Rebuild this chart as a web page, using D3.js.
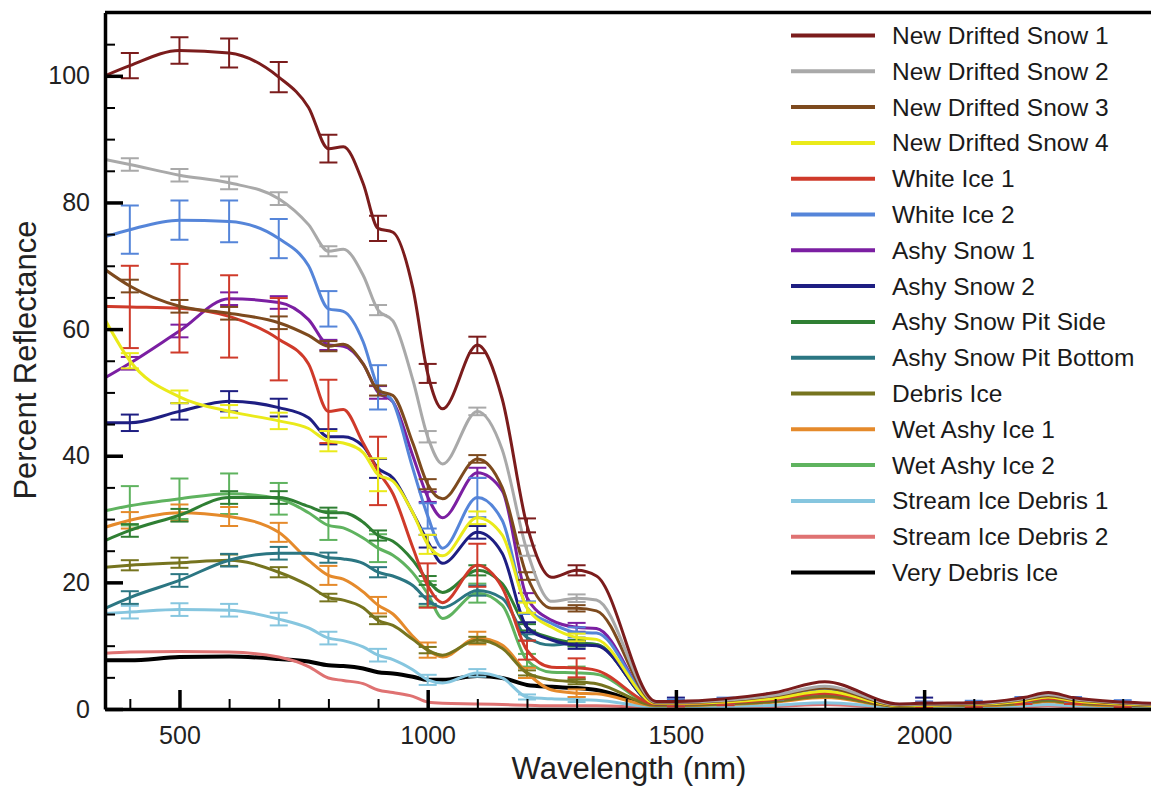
<!DOCTYPE html>
<html>
<head>
<meta charset="utf-8">
<script src="https://cdn.jsdelivr.net/npm/d3@7/dist/d3.min.js"></script>
<style>
  body { margin: 0; background: #fff; }
  svg { display: block; font-family: "Liberation Sans", Arial, Helvetica, sans-serif; }
</style>
</head>
<body>
<div id="chart"></div>
<script>
// wavelengths (nm) the curves are sampled at
var wavelengths = [350, 400, 500, 600, 700, 760, 800, 830, 870, 900, 930, 970, 1000, 1030, 1100, 1150, 1200, 1250, 1300, 1340,
                   1460, 1500, 1600, 1700, 1800, 1950, 2000, 2100, 2200, 2250, 2300, 2400, 2460];

// percent reflectance per surface type
var newDriftedSnow1 = [100, 101.6, 104, 103.6, 99.8, 95, 88.5, 88.8, 83, 75.9, 75.3, 66.5, 53, 47.4, 57.5, 49, 29, 20.8, 21.9, 21,
                       1.2, 1.2, 1.6, 2.6, 4.3, 0.8, 0.9, 1.0, 1.8, 2.6, 1.8, 1.1, 0.9];
var newDriftedSnow2 = [86.8, 86, 84.3, 83.1, 80.6, 76.5, 72.3, 72.6, 68.5, 63, 61.3, 52, 43, 38.7, 47, 41, 25, 17, 17.5, 17.2,
                       1.1, 1.1, 1.4, 2.2, 3.6, 0.7, 0.8, 0.9, 1.6, 2.3, 1.6, 1.0, 0.8];
var newDriftedSnow3 = [69.4, 66.8, 63.6, 62.5, 61, 59, 57.3, 57.6, 54.5, 50.3, 49.5, 42, 35.5, 33.2, 39.5, 35, 21, 15.9, 15.9, 15.5,
                       1.0, 1.0, 1.3, 2.1, 3.3, 0.6, 0.7, 0.8, 1.5, 2.1, 1.5, 0.9, 0.7];
var newDriftedSnow4 = [61.5, 55, 49.3, 47, 45.5, 44.3, 42.3, 42, 40.5, 37, 36, 31, 26, 24.2, 30.2, 27.5, 16, 12.9, 11.3, 11,
                       0.9, 0.9, 1.1, 1.7, 2.8, 0.5, 0.6, 0.7, 1.3, 1.9, 1.3, 0.8, 0.6];
var whiteIce1 = [63.6, 63.5, 63.3, 62, 58.4, 54.5, 47, 47.3, 42, 37.6, 34, 25.5, 19.5, 16.8, 22.7, 19.2, 9.3, 6.6, 6.5, 6.1,
                 0.8, 0.8, 1.0, 1.5, 2.5, 0.5, 0.6, 0.7, 1.2, 1.7, 1.2, 0.7, 0.6];
var whiteIce2 = [74.6, 75.7, 77.2, 77, 74.3, 70, 63.2, 62.8, 58, 50.8, 48.5, 38, 30.5, 25.4, 33.4, 29.8, 16, 13.5, 12.1, 12,
                 0.9, 1.0, 1.3, 2.0, 3.1, 0.6, 0.7, 0.8, 1.4, 2.0, 1.4, 0.9, 0.7];
var ashySnow1 = [52.3, 54.6, 59.7, 64.8, 64.2, 61.5, 57.5, 57.3, 54.5, 50, 48.5, 40, 33.5, 30.2, 37.3, 34.5, 17.6, 14, 12.9, 12.7,
                 0.9, 0.9, 1.2, 1.9, 3.0, 0.6, 0.7, 0.8, 1.4, 2.0, 1.4, 0.8, 0.7];
var ashySnow2 = [45.2, 45.2, 47, 48.6, 47.6, 46, 43, 43, 41.5, 38, 36.5, 31, 26.5, 23, 27.9, 24.6, 12.9, 10.9, 10.1, 10,
                 0.8, 0.9, 1.1, 1.7, 2.7, 0.5, 0.6, 0.7, 1.3, 1.8, 1.3, 0.8, 0.6];
var ashySnowPitSide = [26.6, 28.2, 30.6, 33.4, 33.4, 32, 31, 31, 29.5, 27.4, 26.5, 23.5, 20.3, 18.4, 21.9, 19.8, 12.9, 11.2, 10.4, 10.2,
                       0.8, 0.8, 1.0, 1.6, 2.6, 0.5, 0.6, 0.7, 1.2, 1.7, 1.2, 0.7, 0.6];
var ashySnowPitBottom = [15.9, 17.6, 20.3, 23.5, 24.6, 24.6, 23.9, 23.7, 23, 21.6, 21, 19.5, 17.2, 16, 18.7, 17.5, 11.3, 10.1, 10.4, 10.2,
                         0.8, 0.8, 1.0, 1.5, 2.5, 0.5, 0.6, 0.7, 1.2, 1.6, 1.2, 0.7, 0.6];
var debrisIce = [22.4, 22.7, 23.1, 23.5, 21.6, 19.5, 17.6, 17.2, 16, 14, 13.2, 11, 9.3, 8.5, 10.9, 9.6, 5.7, 4.6, 4.3, 4,
                 0.6, 0.6, 0.8, 1.2, 2.0, 0.4, 0.5, 0.6, 0.9, 1.3, 0.9, 0.6, 0.5];
var wetAshyIce1 = [28.7, 29.8, 31, 30.4, 27.9, 23.5, 21.1, 20.5, 18.5, 16.4, 15, 11.5, 9.3, 8.2, 11.2, 10.1, 5.7, 3, 2.5, 2.4,
                   0.5, 0.5, 0.7, 1.1, 1.8, 0.4, 0.5, 0.5, 0.8, 1.2, 0.8, 0.5, 0.5];
var wetAshyIce2 = [31.3, 32.1, 33.2, 34, 33.2, 31, 29, 28.6, 27, 25.4, 24.3, 21.5, 18.2, 14.3, 18.3, 16.4, 7.7, 5.8, 5.7, 5.5,
                   0.6, 0.7, 0.9, 1.4, 2.3, 0.5, 0.5, 0.6, 1.0, 1.5, 1.0, 0.6, 0.5];
var streamIceDebris1 = [15.1, 15.3, 15.7, 15.6, 14.2, 12.8, 11.2, 10.8, 9.8, 8.5, 7.8, 6.2, 4.6, 4.1, 5.7, 4.9, 1.9, 1.6, 1.5, 1.4,
                        0.3, 0.3, 0.4, 0.6, 1.0, 0.3, 0.3, 0.3, 0.5, 0.7, 0.5, 0.3, 0.3];
var streamIceDebris2 = [8.8, 9, 9.1, 9, 8.2, 6.7, 4.9, 4.5, 4, 3, 2.6, 2, 1.1, 0.9, 0.8, 0.7, 0.6, 0.5, 0.5, 0.5,
                        0.2, 0.2, 0.3, 0.4, 0.7, 0.2, 0.2, 0.2, 0.3, 0.5, 0.3, 0.2, 0.2];
var veryDebrisIce = [7.7, 7.7, 8.2, 8.3, 7.9, 7.5, 6.9, 6.8, 6.4, 5.8, 5.6, 5.1, 4.6, 4.6, 5.2, 4.9, 3.8, 3.5, 3.3, 3,
                     0.6, 0.6, 0.8, 1.3, 2.3, 0.4, 0.5, 0.6, 0.9, 1.3, 0.9, 0.6, 0.5];

// error bars (+/-) at these wavelengths
var errWavelengths = [400, 500, 600, 700, 800, 900, 1000, 1100, 1200, 1300, 1500, 1600, 1700, 2000, 2100, 2200, 2300, 2400];
var errNDS1 = [2, 2.1, 2.3, 2.4, 2.2, 2, 1.5, 1.3, 1.1, 0.8, 0, 0, 0, 0, 0, 0, 0, 0];
var errNDS2 = [1, 1, 1, 1, 0.8, 0.8, 0.9, 0.6, 0.8, 0.6, 0, 0, 0, 0, 0, 0, 0, 0];
var errNDS3 = [1, 1, 1, 1, 0.8, 0.8, 0.8, 0.6, 0.6, 0.5, 0, 0, 0, 0, 0, 0, 0, 0];
var errNDS4 = [1.2, 1, 1, 1.3, 1.6, 2.6, 1.5, 1, 0.8, 0.6, 0, 0, 0, 0, 0, 0, 0, 0];
var errWI1 = [6.5, 7, 6.5, 6.5, 5, 5.4, 3.5, 3.4, 1.5, 1.5, 0.4, 0.4, 0, 0.4, 0.4, 0.4, 0.4, 0.4];
var errWI2 = [3.8, 3.1, 3.3, 3.1, 2.8, 3.5, 2, 3.1, 1, 0.8, 0.5, 0.5, 0.5, 0.5, 0.5, 0.5, 0.5, 0.5];
var errAS1 = [1, 1, 1, 1, 0.8, 1, 0.8, 0.8, 0.7, 0.7, 0, 0, 0, 0, 0, 0, 0, 0];
var errAS2 = [1.3, 1.3, 1.6, 1.4, 1.2, 1.5, 1, 1, 0.8, 0.6, 0.9, 0, 0, 1.2, 0, 0, 0, 0];
var errASPS = [1, 1, 1, 1, 0.8, 0.8, 0.7, 0.8, 0.5, 0.5, 0, 0, 0, 0, 0, 0, 0, 0];
var errASPB = [1, 1, 1, 1, 0.8, 0.8, 0.6, 0.8, 0.5, 0.5, 0, 0, 0, 0, 0, 0, 0, 0];
var errDI = [0.8, 0.8, 0.9, 0.8, 0.6, 0.6, 0.5, 0.5, 0.4, 0.4, 0, 0, 0, 0, 0, 0, 0, 0];
var errWAI1 = [1.3, 1.3, 1.5, 1.5, 1.5, 1.3, 1.2, 1, 0.8, 0.6, 0, 0, 0, 0, 0, 0, 0, 0];
var errWAI2 = [3.1, 3.2, 3.2, 2.5, 2.3, 2.2, 2, 1.5, 1, 1, 0, 0, 0, 0, 0, 0, 0, 0];
var errSID1 = [1, 1, 1, 1, 1, 1, 0.8, 0.6, 0.4, 0.4, 0, 0, 0, 0, 0, 0, 0, 0];

var names = ["New Drifted Snow 1", "New Drifted Snow 2", "New Drifted Snow 3", "New Drifted Snow 4",
             "White Ice 1", "White Ice 2", "Ashy Snow 1", "Ashy Snow 2", "Ashy Snow Pit Side",
             "Ashy Snow Pit Bottom", "Debris Ice", "Wet Ashy Ice 1", "Wet Ashy Ice 2",
             "Stream Ice Debris 1", "Stream Ice Debris 2", "Very Debris Ice"];
var seriesValues = [newDriftedSnow1, newDriftedSnow2, newDriftedSnow3, newDriftedSnow4, whiteIce1, whiteIce2,
                    ashySnow1, ashySnow2, ashySnowPitSide, ashySnowPitBottom, debrisIce, wetAshyIce1, wetAshyIce2,
                    streamIceDebris1, streamIceDebris2, veryDebrisIce];
var seriesErrors = [errNDS1, errNDS2, errNDS3, errNDS4, errWI1, errWI2, errAS1, errAS2, errASPS, errASPB,
                    errDI, errWAI1, errWAI2, errSID1, null, null];

var colors = ["#7b1c1c", "#a9a9a9", "#7d4a1e", "#eaea1a", "#cf3a2a", "#5585d9", "#7b1fa2", "#1e1e82",
              "#2f7f33", "#2b7682", "#76741f", "#e58a2b", "#5fb35f", "#86c6df", "#df7272", "#000000"];

var yMajor = [0, 20, 40, 60, 80, 100];
var yMinor = [5, 10, 15, 25, 30, 35, 45, 50, 55, 65, 70, 75, 85, 90, 95, 105];
var xMajor = [500, 1000, 1500, 2000];
var xMinor = [400, 600, 700, 800, 900, 1100, 1200, 1300, 1400, 1600, 1700, 1800, 1900, 2100, 2200, 2300, 2400];

var width = 1151, height = 790;
var plotLeft = 105, plotTop = 12.5, plotBottom = 709;

var svg = d3.select("#chart").append("svg")
    .attr("width", width)
    .attr("height", height);

var x = d3.scaleLinear().domain([350, 2457]).range([plotLeft, width]);
var y = d3.scaleLinear().domain([0, 110]).range([plotBottom, plotTop]);

svg.append("clipPath").attr("id", "plot")
  .append("rect")
    .attr("x", plotLeft).attr("y", plotTop)
    .attr("width", width - plotLeft).attr("height", plotBottom - plotTop);

var plot = svg.append("g").attr("clip-path", "url(#plot)");

var line = d3.line()
    .x(function(d, i) { return x(wavelengths[i]); })
    .y(function(d) { return y(d); })
    .curve(d3.curveMonotoneX);

// draw the last series first so New Drifted Snow 1 ends up on top
for (var s = seriesValues.length - 1; s >= 0; s--) {
    var vals = seriesValues[s];
    var g = plot.append("g");

    g.append("path")
        .attr("d", line(vals))
        .attr("fill", "none")
        .attr("stroke", colors[s])
        .attr("stroke-width", s === 15 ? 4 : 3)
        .attr("stroke-linejoin", "round");

    var errs = seriesErrors[s];
    if (!errs) continue;
    errWavelengths.forEach(function(w, k) {
        var e = errs[k];
        if (!e) return;
        var v = vals[wavelengths.indexOf(w)];
        var cx = x(w), y0 = y(v - e), y1 = y(v + e);
        g.append("line").attr("x1", cx).attr("x2", cx).attr("y1", y0).attr("y2", y1);
        g.append("line").attr("x1", cx - 9).attr("x2", cx + 9).attr("y1", y0).attr("y2", y0);
        g.append("line").attr("x1", cx - 9).attr("x2", cx + 9).attr("y1", y1).attr("y2", y1);
    });
    g.selectAll("line")
        .attr("stroke", colors[s])
        .attr("stroke-width", 2);
}

// axes: ticks point into the plot
var yAxis = svg.append("g").attr("transform", "translate(" + plotLeft + ",0)")
    .call(d3.axisLeft(y).tickValues(yMajor).tickSize(-18).tickSizeOuter(0).tickPadding(15));
svg.append("g").attr("transform", "translate(" + plotLeft + ",0)")
    .call(d3.axisLeft(y).tickValues(yMinor).tickSize(-10).tickSizeOuter(0).tickFormat(""))
    .call(function(g) { g.select(".domain").remove(); });

var xAxis = svg.append("g").attr("transform", "translate(0," + plotBottom + ")")
    .call(d3.axisBottom(x).tickValues(xMajor).tickSize(-19).tickSizeOuter(0).tickPadding(17).tickFormat(d3.format("d")));
svg.append("g").attr("transform", "translate(0," + plotBottom + ")")
    .call(d3.axisBottom(x).tickValues(xMinor).tickSize(-10).tickSizeOuter(0).tickFormat(""))
    .call(function(g) { g.select(".domain").remove(); });

svg.selectAll(".domain").attr("stroke", "#000").attr("stroke-width", 3.5);
svg.selectAll(".tick line").attr("stroke", "#000").attr("stroke-width", 2);
yAxis.selectAll(".tick line").attr("stroke-width", 3.5);
xAxis.selectAll(".tick line").attr("stroke-width", 3.5);
svg.selectAll(".tick text").attr("font-size", 25).attr("fill", "#222")
    .attr("font-family", "'Liberation Sans', Arial, Helvetica, sans-serif");

// top frame line
svg.append("line")
    .attr("x1", plotLeft).attr("x2", width)
    .attr("y1", plotTop).attr("y2", plotTop)
    .attr("stroke", "#000").attr("stroke-width", 3.5);

svg.append("text")
    .attr("x", 629).attr("y", 779)
    .attr("text-anchor", "middle")
    .attr("font-size", 31).attr("fill", "#222")
    .text("Wavelength (nm)");

svg.append("text")
    .attr("transform", "translate(36,360) rotate(-90)")
    .attr("text-anchor", "middle")
    .attr("font-size", 31).attr("fill", "#222")
    .text("Percent Reflectance");

// legend
var legend = svg.append("g");
names.forEach(function(n, i) {
    var ly = 35.5 + i * 35.8;
    legend.append("line")
        .attr("x1", 791).attr("x2", 875)
        .attr("y1", ly).attr("y2", ly)
        .attr("stroke", colors[i]).attr("stroke-width", 4);
    legend.append("text")
        .attr("x", 892).attr("y", ly)
        .attr("dy", "0.35em")
        .attr("font-size", 24.5).attr("fill", "#1a1a1a")
        .text(n);
});
</script>
</body>
</html>
